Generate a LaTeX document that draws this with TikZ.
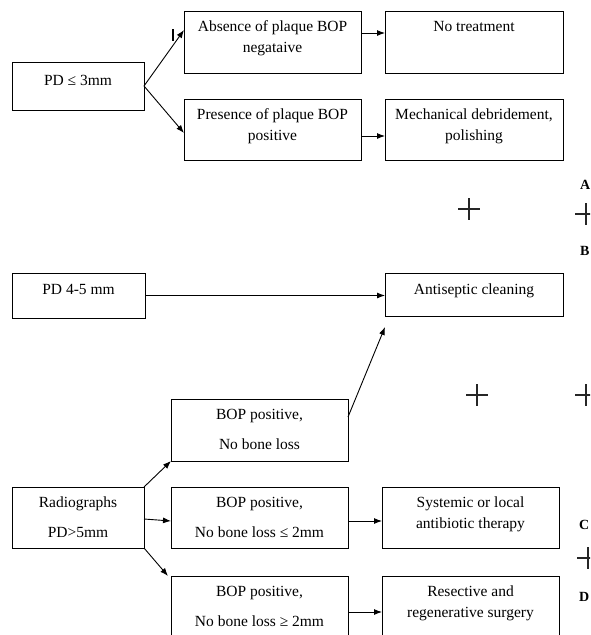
\documentclass[tikz,border=0pt]{standalone}
\usepackage{fontspec}
\setmainfont{Liberation Serif}
\usetikzlibrary{arrows.meta}
\newcommand{\cellbox}[4]{\parbox[c][#2][t]{#1}{\fontsize{15.5}{#3}\selectfont\centering\vspace*{10pt}#4}}

\begin{document}
\begin{tikzpicture}[x=1pt,y=-1pt,
    box/.style={draw, inner sep=0pt, outer sep=0pt, anchor=north west, line width=0.9pt},
    arr/.style={-{Latex[length=8pt,width=6pt]}, line width=0.9pt},
    plus/.style={line width=1.6pt, color=black!85},
    tag/.style={anchor=west, inner sep=0pt, font=\fontsize{14}{14}\selectfont\bfseries}]
      \useasboundingbox (0,0) rectangle (590,635);
      \clip (0,0) rectangle (590,635);
      % first row
      \node[box] (pd3) at (12,62) {\cellbox{132pt}{48pt}{21pt}{\vspace*{3pt}PD ≤ 3mm}};
      \node[box] (absent) at (184,11) {\cellbox{177pt}{62pt}{21pt}{Absence of plaque BOP\\negataive}};
      \node[box] (present) at (184,99) {\cellbox{177pt}{61pt}{21pt}{Presence of plaque BOP\\positive}};
      \node[box] (notreat) at (385,11) {\cellbox{178pt}{62pt}{21pt}{No treatment}};
      \node[box] (mech) at (385,99) {\cellbox{178pt}{61pt}{21pt}{Mechanical debridement,\\polishing}};
      \draw[arr] (pd3.east) -- ([yshift=-19pt]absent.north west);
      \draw[arr] (pd3.east) -- ([yshift=-34pt]present.north west);
      \draw[arr] ([yshift=-22pt]absent.north east) -- ([yshift=-22pt]notreat.north west);
      \draw[arr] ([yshift=-37pt]present.north east) -- ([yshift=-37pt]mech.north west);
      \draw[line width=1.4pt] (173,29) -- (173,41);
      % second row
      \node[box] (pd45) at (12,273) {\cellbox{133pt}{45pt}{21pt}{\vspace*{1pt}PD 4-5 mm}};
      \node[box] (antisep) at (385,273) {\cellbox{178pt}{43pt}{21pt}{\vspace*{1pt}Antiseptic cleaning}};
      \draw[arr] (pd45.east) -- (pd45.east -| antisep.west);
      % radiographs
      \node[box] (radio) at (12,487) {\cellbox{132pt}{61pt}{30pt}{Radiographs\\PD>5mm}};
      \node[box] (bop1) at (171,399) {\cellbox{177pt}{62pt}{30pt}{BOP positive,\\No bone loss}};
      \node[box] (bop2) at (171,487) {\cellbox{177pt}{61pt}{30pt}{BOP positive,\\No bone loss ≤ 2mm}};
      \node[box] (bop3) at (171,576) {\cellbox{177pt}{70pt}{30pt}{BOP positive,\\No bone loss ≥ 2mm}};
      \node[box] (system) at (382,487) {\cellbox{177pt}{61pt}{21pt}{Systemic or local\\antibiotic therapy}};
      \node[box] (resect) at (382,576) {\cellbox{177pt}{70pt}{21pt}{Resective and\\regenerative surgery}};
      \draw[arr] ([yshift=-18pt]bop1.north east) -- ([yshift=-11pt]antisep.south west);
      \draw[arr] (radio.north east) -- (bop1.south west);
      \draw[arr] ([yshift=-32pt]radio.north east) -- ([yshift=-34pt]bop2.north west);
      \draw[arr] (radio.south east) -- ([xshift=-3pt]bop3.north west);
      \draw[arr] ([yshift=-34pt]bop2.north east) -- ([yshift=-34pt]system.north west);
      \draw[arr] ([yshift=-36pt]bop3.north east) -- ([yshift=-36pt]resect.north west);
      % marks at the side
      \foreach \px/\py in {469/209,586/214,477/395,586/395,588/558}
        \draw[plus] (\px-11,\py) -- (\px+11,\py) (\px,\py-11) -- (\px,\py+11);
      \node[tag] (tA) at (580,185) {A};
      \node[tag] (tB) at (580,251) {B};
      \node[tag] (tC) at (579,525) {C};
      \node[tag] (tD) at (579,597) {D};
    \end{tikzpicture}
\end{document}
